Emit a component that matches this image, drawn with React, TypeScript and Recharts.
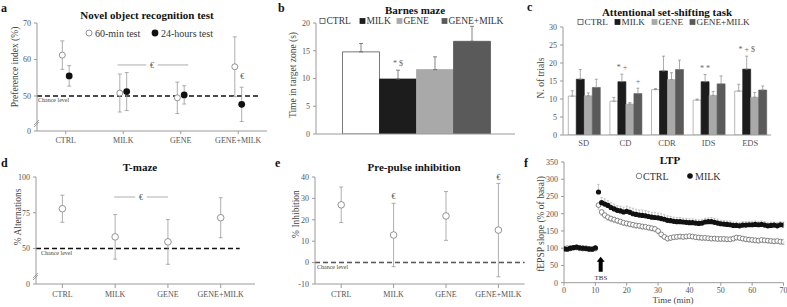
import React from 'react';
import {
  ScatterChart, Scatter, BarChart, Bar, XAxis, YAxis, ErrorBar,
  ReferenceLine, ReferenceDot, LabelList,
} from 'recharts';

const FONT = '"Liberation Serif", "DejaVu Serif", serif';
const AXIS = '#9a9a9a';
const TICK = '#555';

// ---------- a: Novel object recognition ----------
const GROUPS = ['CTRL', 'MILK', 'GENE', 'GENE+MILK'];
const NOR_60 = [61.2, 50.8, 49.5, 58.0];
const NOR_60_SEM = [3.9, 5.2, 4.3, 8.2];
const NOR_24 = [55.5, 51.2, 50.3, 47.7];
const NOR_24_SEM = [2.8, 5.2, 2.5, 4.7];
const NOR_TICKS = [40.4, 50, 60, 70];
const NOR_TICK_LABELS = ['0', '50', '60', '70'];

// ---------- b: Barnes maze ----------
const BARNES = [14.8, 9.9, 11.6, 16.7];
const BARNES_SEM = [1.5, 1.6, 2.3, 2.7];
const BARNES_SIG = ['', '* $', '', ''];
const BARNES_TICKS = [0, 5, 10, 15, 20];

// ---------- c: Attentional set-shifting ----------
const TASKS = ['SD', 'CD', 'CDR', 'IDS', 'EDS'];
const ASST_CTRL = [10.8, 9.4, 12.6, 9.7, 12.2];
const ASST_CTRL_SEM = [1.5, 1.0, 0.3, 0.3, 1.9];
const ASST_MILK = [15.5, 14.8, 17.8, 14.8, 18.3];
const ASST_MILK_SEM = [2.7, 2.1, 4.1, 2.0, 3.6];
const ASST_GENE = [10.9, 8.6, 15.4, 11.0, 10.5];
const ASST_GENE_SEM = [0.8, 0.4, 1.9, 1.1, 1.3];
const ASST_GM = [13.2, 11.5, 18.2, 14.2, 12.5];
const ASST_GM_SEM = [2.3, 1.5, 2.6, 2.2, 1.1];
const ASST_MILK_SIG = ['', '* +', '', '* *', '* + $'];
const ASST_GM_SIG = ['', '+', '', '', ''];
const ASST_TICKS = [0, 5, 10, 15, 20, 25, 30];

// ---------- d: T-maze ----------
const TMAZE = [77.8, 58.1, 54.6, 71.5];
const TMAZE_SEM = [9.5, 15.6, 15.7, 14.0];
const TMAZE_TICKS = [25.1, 50, 75, 100];
const TMAZE_TICK_LABELS = ['0', '50', '75', '100'];

// ---------- e: Pre-pulse inhibition ----------
const PPI = [27.0, 12.9, 21.8, 15.2];
const PPI_SEM = [8.3, 14.8, 11.4, 21.8];
const PPI_TICKS = [-10, 0, 10, 20, 30, 40];

// ---------- f: LTP ----------
const MINUTES = [
  0, 1, 2, 3, 4, 5, 6, 7, 8, 9, 10, 11, 12, 13, 14, 15, 16, 17, 18, 19, 20,
  21, 22, 23, 24, 25, 26, 27, 28, 29, 30, 31, 32, 33, 34, 35, 36, 37, 38, 39, 40,
  41, 42, 43, 44, 45, 46, 47, 48, 49, 50, 51, 52, 53, 54, 55, 56, 57, 58, 59, 60,
  61, 62, 63, 64, 65, 66, 67, 68, 69, 70,
];
const LTP_MILK = [
  98, 97, 100, 102, 103, 101, 100, 99, 98, 97, 101, 263, 232, 228, 224, 218, 214, 210, 208, 205, 207,
  204, 200, 198, 196, 195, 194, 192, 190, 189, 188, 186, 184, 181, 180, 178, 177, 177, 176, 175, 174,
  174, 173, 172, 173, 176, 177, 177, 175, 173, 171, 170, 169, 168, 166, 166, 165, 167, 167, 168, 168,
  169, 168, 169, 167, 165, 166, 167, 165, 168, 167,
];
const LTP_MILK_SEM = [
  4, 4, 5, 4, 4, 5, 4, 4, 4, 5, 4, 22, 15, 15, 14, 14, 14, 13, 14, 14, 15,
  15, 16, 15, 15, 16, 15, 15, 14, 15, 14, 14, 13, 13, 12, 12, 12, 12, 11, 11, 11,
  11, 11, 10, 11, 11, 11, 12, 11, 11, 10, 10, 10, 11, 10, 10, 10, 10, 10, 10, 10,
  10, 9, 10, 10, 9, 10, 9, 10, 9, 9,
];
const LTP_CTRL = [
  99, 100, 99, 101, 102, 100, 99, 100, 97, 98, 99, 225, 205, 196, 190, 186, 183, 180, 177, 174, 172,
  170, 168, 166, 165, 163, 162, 160, 158, 156, 150, 140, 133, 128, 130, 132, 133, 134, 133, 134, 135,
  134, 132, 131, 130, 130, 129, 128, 128, 127, 127, 127, 126, 126, 128, 131, 130, 128, 126, 125, 124,
  123, 122, 124, 123, 122, 121, 120, 121, 119, 118,
];
const LTP_CTRL_SEM = [
  4, 4, 4, 4, 4, 4, 4, 4, 4, 4, 4, 12, 10, 9, 9, 9, 9, 8, 8, 8, 8,
  8, 8, 8, 8, 8, 8, 8, 8, 8, 8, 8, 7, 7, 7, 7, 7, 7, 7, 7, 7,
  7, 7, 7, 7, 7, 7, 7, 7, 7, 7, 7, 7, 7, 7, 7, 7, 7, 7, 7, 7,
  7, 7, 7, 7, 7, 7, 7, 7, 7, 7,
];
const LTP_X_TICKS = [0, 10, 20, 30, 40, 50, 60, 70];
const LTP_Y_TICKS = [0, 50, 100, 150, 200, 250, 300, 350];

// ---------- derived tables ----------
const norOpen = GROUPS.map((g, i) => ({ x: i - 0.06, y: NOR_60[i], e: NOR_60_SEM[i] }));
const norFilled = GROUPS.map((g, i) => ({ x: i + 0.06, y: NOR_24[i], e: NOR_24_SEM[i] }));
const tmazeData = GROUPS.map((g, i) => ({ x: i, y: TMAZE[i], e: TMAZE_SEM[i] }));
const ppiData = GROUPS.map((g, i) => ({ x: i, y: PPI[i], e: PPI_SEM[i] }));

const SERIES = [
  { key: 'ctrl', name: 'CTRL', fill: '#ffffff', stroke: '#555555' },
  { key: 'milk', name: 'MILK', fill: '#1c1c1c', stroke: '#1c1c1c' },
  { key: 'gene', name: 'GENE', fill: '#a9a9a9', stroke: '#a9a9a9' },
  { key: 'gm', name: 'GENE+MILK', fill: '#5a5a5a', stroke: '#5a5a5a' },
];

const barnesRow: any = { name: '' };
SERIES.forEach((s, i) => {
  barnesRow[s.key] = BARNES[i];
  barnesRow[s.key + 'E'] = [0, BARNES_SEM[i]];
});
const barnesData = [barnesRow];

const ASST_VALS = [ASST_CTRL, ASST_MILK, ASST_GENE, ASST_GM];
const ASST_SEMS = [ASST_CTRL_SEM, ASST_MILK_SEM, ASST_GENE_SEM, ASST_GM_SEM];
const asstData = TASKS.map((t, j) => {
  const row: any = { name: t };
  SERIES.forEach((s, i) => {
    row[s.key] = ASST_VALS[i][j];
    row[s.key + 'E'] = [0, ASST_SEMS[i][j]];
  });
  return row;
});

const ltpMilk = MINUTES.map((m, i) => ({ x: m, y: LTP_MILK[i], e: [0, LTP_MILK_SEM[i]] }));
const ltpCtrl = MINUTES.map((m, i) => ({ x: m, y: LTP_CTRL[i], e: [LTP_CTRL_SEM[i], 0] }));

// ---------- helpers ----------
const tickStyle = { fontSize: 8, fill: TICK, fontFamily: FONT };

const openDot = (r: number, stroke: string) => (p: any) =>
  <circle cx={p.cx} cy={p.cy} r={r} fill="#fff" stroke={stroke} strokeWidth={0.9} />;
const filledDot = (r: number, fill: string) => (p: any) =>
  <circle cx={p.cx} cy={p.cy} r={r} fill={fill} stroke="none" />;

const sigLabel = (vals: number[], errs: number[], marks: string[]) => (p: any) => {
  const i = p.index;
  if (i == null || !marks[i]) return null;
  const vb = p.viewBox && p.viewBox.width != null ? p.viewBox : p;
  const { x, y, width, height } = vb;
  const pxPerUnit = Math.abs(height) / vals[i];
  const top = y - errs[i] * pxPerUnit;
  return (
    <text x={x + width / 2} y={top - 4} textAnchor="middle" fontSize={8} fill="#666" fontFamily={FONT}>
      {marks[i]}
    </text>
  );
};

const TbsArrow = (p: any) => {
  const cx = p.cx, cy = p.cy;
  const pts = [
    [cx, cy - 8], [cx + 4, cy - 3], [cx + 2, cy - 3], [cx + 2, cy + 7],
    [cx - 2, cy + 7], [cx - 2, cy - 3], [cx - 4, cy - 3],
  ].map((q) => q.join(',')).join(' ');
  return <polygon points={pts} fill="#000" />;
};

const YLabel = ({ x, y, text }: { x: number; y: number; text: string }) => (
  <text x={x} y={y} transform={`rotate(-90 ${x} ${y})`} textAnchor="middle" dominantBaseline="central"
    fontSize={9.5} fill="#444" fontFamily={FONT}>{text}</text>
);
const Title = ({ x, y, text }: { x: number; y: number; text: string }) => (
  <text x={x} y={y} textAnchor="middle" fontSize={11} fontWeight="bold" fill="#111" fontFamily={FONT}>{text}</text>
);
const Letter = ({ x, y, text }: { x: number; y: number; text: string }) => (
  <text x={x} y={y} fontSize={12} fontWeight="bold" fill="#111" fontFamily={FONT}>{text}</text>
);
const Small = ({ x, y, text, size = 6 }: { x: number; y: number; text: string; size?: number }) => (
  <text x={x} y={y} fontSize={size} fill="#444" fontFamily={FONT}>{text}</text>
);

const BarLegend = ({ xs, y, size }: { xs: number[]; y: number; size: number }) => (
  <g fontFamily={FONT} fontSize={size} fill="#333">
    {SERIES.map((s, i) => (
      <g key={s.key}>
        <rect x={xs[i]} y={y - 5.5} width={5} height={5} fill={s.fill} stroke={s.stroke} strokeWidth={0.8} />
        <text x={xs[i] + 6.5} y={y}>{s.name}</text>
      </g>
    ))}
  </g>
);

const abs = (left: number, top: number, width: number, height: number): React.CSSProperties => ({
  position: 'absolute', left, top, width, height, overflow: 'visible',
});

export default function App() {
  return (
    <div style={{ position: 'absolute', left: 0, top: 0, width: 787, height: 307, background: '#fff', overflow: 'hidden' }}>
      {/* a */}
      <div style={abs(0, 0, 270, 150)}>
        <ScatterChart width={270} height={150} margin={{ top: 23, right: 3, bottom: 0, left: 12 }}>
          <XAxis type="number" dataKey="x" domain={[-0.5, 3.5]} ticks={[0, 1, 2, 3]} interval={0}
            allowDataOverflow tickFormatter={(v: number) => GROUPS[v]} height={19} tickSize={3} tickMargin={3}
            tick={tickStyle} axisLine={{ stroke: AXIS }} tickLine={{ stroke: AXIS }} />
          <YAxis type="number" dataKey="y" domain={[40.4, 70]} ticks={NOR_TICKS} interval={0} allowDataOverflow
            tickFormatter={(v: number, i: number) => NOR_TICK_LABELS[i]} width={25} tickSize={3} tickMargin={3}
            tick={tickStyle} axisLine={{ stroke: AXIS }} tickLine={{ stroke: AXIS }} />
          <ReferenceLine segment={[{ x: -0.5, y: 50 }, { x: 3.37, y: 50 }]} stroke="#111" strokeWidth={1.5} strokeDasharray="5 3" />
          <ReferenceLine segment={[{ x: 0.9, y: 58.5 }, { x: 1.4, y: 58.5 }]} stroke="#999" strokeWidth={0.8} />
          <ReferenceLine segment={[{ x: 1.6, y: 58.5 }, { x: 2.13, y: 58.5 }]} stroke="#999" strokeWidth={0.8} />
          <ReferenceDot x={1.5} y={58.5} r={0} fill="none" stroke="none"
            label={{ value: '€', position: 'center', fontSize: 8, fill: '#555', fontFamily: FONT }} />
          <ReferenceDot x={3.07} y={55.5} r={0} fill="none" stroke="none"
            label={{ value: '€', position: 'center', fontSize: 8, fill: '#555', fontFamily: FONT }} />
          <Scatter data={norOpen} isAnimationActive={false} shape={openDot(3, '#888')}>
            <ErrorBar dataKey="e" direction="y" width={2} stroke="#999" strokeWidth={0.8} />
          </Scatter>
          <Scatter data={norFilled} isAnimationActive={false} shape={filledDot(3.4, '#111')}>
            <ErrorBar dataKey="e" direction="y" width={2} stroke="#999" strokeWidth={0.8} />
          </Scatter>
        </ScatterChart>
      </div>

      {/* b */}
      <div style={abs(260, 0, 260, 150)}>
        <BarChart width={260} height={150} data={barnesData} margin={{ top: 23, right: 5, bottom: 0, left: 26 }}
          barCategoryGap={26.5} barGap={0}>
          <XAxis dataKey="name" height={16} tick={false} tickLine={false} axisLine={{ stroke: AXIS }} />
          <YAxis type="number" domain={[0, 20]} ticks={BARNES_TICKS} interval={0} allowDataOverflow width={30}
            tickSize={3} tickMargin={3} tick={tickStyle} axisLine={{ stroke: AXIS }} tickLine={{ stroke: AXIS }} />
          {SERIES.map((s, i) => (
            <Bar key={s.key} dataKey={s.key} fill={s.fill} stroke={s.stroke} strokeWidth={0.8} isAnimationActive={false}>
              <ErrorBar dataKey={s.key + 'E'} direction="y" width={2} stroke="#666" strokeWidth={0.8} />
              <LabelList dataKey={s.key} content={sigLabel([BARNES[i]], [BARNES_SEM[i]], [BARNES_SIG[i]])} />
            </Bar>
          ))}
        </BarChart>
      </div>

      {/* c */}
      <div style={abs(520, 0, 267, 150)}>
        <BarChart width={267} height={150} data={asstData} margin={{ top: 27, right: 16, bottom: 0, left: 18 }}
          barCategoryGap={5.3} barGap={0}>
          <XAxis dataKey="name" height={15} interval={0} tickLine={false} tickSize={3} tickMargin={2}
            tick={{ ...tickStyle, fontSize: 8.5 }} axisLine={{ stroke: AXIS }} />
          <YAxis type="number" domain={[0, 30]} ticks={ASST_TICKS} interval={0} allowDataOverflow width={25}
            tickSize={3} tickMargin={3} tick={tickStyle} axisLine={{ stroke: AXIS }} tickLine={{ stroke: AXIS }} />
          {SERIES.map((s) => (
            <Bar key={s.key} dataKey={s.key} fill={s.fill} stroke={s.key === 'ctrl' ? '#888' : s.stroke}
              strokeWidth={0.6} isAnimationActive={false}>
              <ErrorBar dataKey={s.key + 'E'} direction="y" width={1.5} stroke="#888" strokeWidth={0.7} />
              {s.key === 'milk' && (
                <LabelList dataKey={s.key} content={sigLabel(ASST_MILK, ASST_MILK_SEM, ASST_MILK_SIG)} />
              )}
              {s.key === 'gm' && (
                <LabelList dataKey={s.key} content={sigLabel(ASST_GM, ASST_GM_SEM, ASST_GM_SIG)} />
              )}
            </Bar>
          ))}
        </BarChart>
      </div>

      {/* d */}
      <div style={abs(0, 150, 260, 157)}>
        <ScatterChart width={260} height={157} margin={{ top: 27, right: 5, bottom: 0, left: 12 }}>
          <XAxis type="number" dataKey="x" domain={[-0.5, 3.65]} ticks={[0, 1, 2, 3]} interval={0}
            allowDataOverflow tickFormatter={(v: number) => GROUPS[v]} height={23} tickSize={4} tickMargin={3}
            tick={tickStyle} axisLine={{ stroke: AXIS }} tickLine={{ stroke: AXIS }} />
          <YAxis type="number" dataKey="y" domain={[25.1, 100]} ticks={TMAZE_TICKS} interval={0} allowDataOverflow
            tickFormatter={(v: number, i: number) => TMAZE_TICK_LABELS[i]} width={24} tickSize={3} tickMargin={3}
            tick={tickStyle} axisLine={{ stroke: AXIS }} tickLine={{ stroke: AXIS }} />
          <ReferenceLine segment={[{ x: -0.5, y: 50 }, { x: 3.36, y: 50 }]} stroke="#111" strokeWidth={1.5} strokeDasharray="5 3" />
          <ReferenceLine segment={[{ x: 0.98, y: 86 }, { x: 1.38, y: 86 }]} stroke="#999" strokeWidth={0.8} />
          <ReferenceLine segment={[{ x: 1.6, y: 86 }, { x: 2.0, y: 86 }]} stroke="#999" strokeWidth={0.8} />
          <ReferenceDot x={1.49} y={86} r={0} fill="none" stroke="none"
            label={{ value: '€', position: 'center', fontSize: 8, fill: '#555', fontFamily: FONT }} />
          <Scatter data={tmazeData} isAnimationActive={false} shape={openDot(3.3, '#888')}>
            <ErrorBar dataKey="e" direction="y" width={2} stroke="#999" strokeWidth={0.8} />
          </Scatter>
        </ScatterChart>
      </div>

      {/* e */}
      <div style={abs(260, 150, 270, 157)}>
        <ScatterChart width={270} height={157} margin={{ top: 27, right: 5.4, bottom: 0, left: 30 }}>
          <XAxis type="number" dataKey="x" domain={[-0.5, 3.5]} ticks={[0, 1, 2, 3]} interval={0}
            allowDataOverflow tickFormatter={(v: number) => GROUPS[v]} height={23} tickSize={4} tickMargin={3}
            tick={tickStyle} axisLine={{ stroke: AXIS }} tickLine={{ stroke: AXIS }} />
          <YAxis type="number" dataKey="y" domain={[-10, 40]} ticks={PPI_TICKS} interval={0} allowDataOverflow
            width={25} tickSize={3} tickMargin={3} tick={tickStyle} axisLine={{ stroke: AXIS }} tickLine={{ stroke: AXIS }} />
          <ReferenceLine y={0} stroke="#555" strokeWidth={1.5} strokeDasharray="5 3" />
          <ReferenceDot x={1} y={31.1} r={0} fill="none" stroke="none"
            label={{ value: '€', position: 'center', fontSize: 8, fill: '#555', fontFamily: FONT }} />
          <ReferenceDot x={3} y={40} r={0} fill="none" stroke="none" ifOverflow="visible"
            label={{ value: '€', position: 'center', fontSize: 8, fill: '#555', fontFamily: FONT }} />
          <Scatter data={ppiData} isAnimationActive={false} shape={openDot(3.3, '#888')}>
            <ErrorBar dataKey="e" direction="y" width={2} stroke="#999" strokeWidth={0.8} />
          </Scatter>
        </ScatterChart>
      </div>

      {/* f */}
      <div style={abs(520, 150, 267, 157)}>
        <ScatterChart width={267} height={157} margin={{ top: 12, right: 3.5, bottom: 0, left: 18 }}>
          <XAxis type="number" dataKey="x" domain={[0, 70]} ticks={LTP_X_TICKS} interval={0} allowDataOverflow
            height={24.3} tickSize={3} tickMargin={2} tick={tickStyle} axisLine={{ stroke: AXIS }} tickLine={{ stroke: AXIS }} />
          <YAxis type="number" dataKey="y" domain={[0, 350]} ticks={LTP_Y_TICKS} interval={0} allowDataOverflow
            width={26} tickSize={3} tickMargin={3} tick={tickStyle} axisLine={{ stroke: AXIS }} tickLine={{ stroke: AXIS }} />
          <Scatter data={ltpCtrl} isAnimationActive={false} shape={openDot(2.4, '#777')}>
            <ErrorBar dataKey="e" direction="y" width={1.2} stroke="#aaa" strokeWidth={0.6} />
          </Scatter>
          <Scatter data={ltpMilk} isAnimationActive={false} shape={filledDot(2.6, '#111')}>
            <ErrorBar dataKey="e" direction="y" width={1.2} stroke="#aaa" strokeWidth={0.6} />
          </Scatter>
          <ReferenceDot x={11.7} y={52} r={0} shape={TbsArrow} />
        </ScatterChart>
      </div>

      {/* text overlay */}
      <svg width={787} height={307} style={{ position: 'absolute', left: 0, top: 0, pointerEvents: 'none' }}>
        <Letter x={1} y={12} text="a" />
        <Letter x={278} y={12} text="b" />
        <Letter x={527} y={11} text="c" />
        <Letter x={1} y={167} text="d" />
        <Letter x={275} y={167} text="e" />
        <Letter x={524} y={167} text="f" />

        <Title x={147} y={19} text="Novel object recognition test" />
        <Title x={415} y={14} text="Barnes maze" />
        <Title x={667} y={16} text="Attentional set-shifting task" />
        <Title x={140} y={171} text="T-maze" />
        <Title x={414} y={171} text="Pre-pulse inhibition" />
        <Title x={670} y={164} text="LTP" />

        <YLabel x={15} y={67} text="Preference index (%)" />
        <YLabel x={293} y={75} text="Time in target zone (s)" />
        <YLabel x={541} y={78} text="N. of trials" />
        <YLabel x={18} y={217} text="% Alternations" />
        <YLabel x={296} y={214} text="% Inhibition" />
        <YLabel x={541} y={224} text="fEPSP slope (% of basal)" />

        <Small x={38} y={102} text="Chance level" />
        <Small x={41} y={255} text="Chance level" />
        <Small x={317} y={269} text="Chance level" />

        {/* legend a */}
        <g fontFamily={FONT} fontSize={10} fill="#333">
          <circle cx={89} cy={33} r={3} fill="#fff" stroke="#888" strokeWidth={0.9} />
          <text x={95} y={36.5}>60-min test</text>
          <circle cx={155} cy={33} r={3.4} fill="#111" />
          <text x={161} y={36.5}>24-hours test</text>
        </g>
        <BarLegend xs={[320, 360, 397, 442]} y={24} size={9.5} />
        <BarLegend xs={[578, 615, 652, 690]} y={25} size={9.2} />
        {/* legend f */}
        <g fontFamily={FONT} fontSize={10} fill="#333">
          <circle cx={639} cy={176} r={2.8} fill="#fff" stroke="#777" strokeWidth={0.9} />
          <text x={643} y={179.5}>CTRL</text>
          <circle cx={690} cy={176} r={2.8} fill="#111" />
          <text x={695} y={179.5}>MILK</text>
        </g>
        <text x={601} y={280} textAnchor="middle" fontSize={7} fill="#333" fontFamily={FONT}>TBS</text>
        <text x={673} y={303} textAnchor="middle" fontSize={9} fill="#444" fontFamily={FONT}>Time (min)</text>

        {/* axis breaks */}
        <g stroke="#888" strokeWidth={0.8}>
          <line x1={34} y1={125} x2={39} y2={120} />
          <line x1={34} y1={127} x2={39} y2={122} />
          <line x1={33} y1={278} x2={38} y2={273} />
          <line x1={33} y1={280} x2={38} y2={275} />
        </g>
      </svg>
    </div>
  );
}
